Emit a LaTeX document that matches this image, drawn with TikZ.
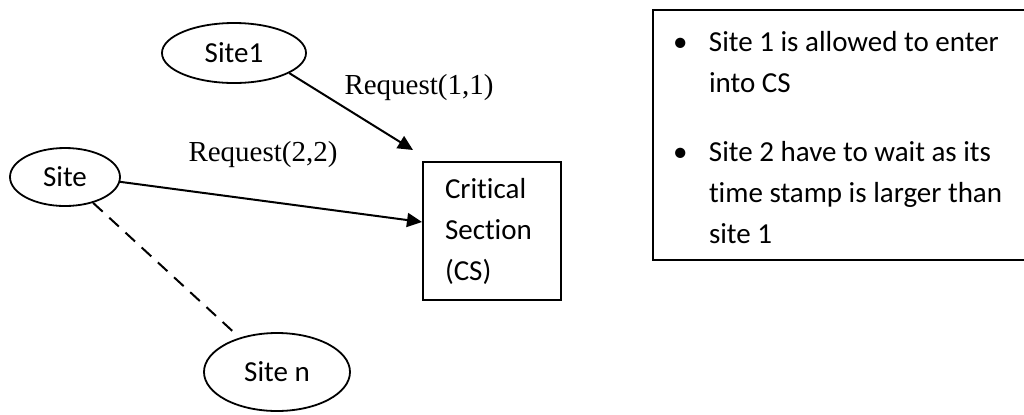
\documentclass[tikz,border=0pt]{standalone}
\usepackage{fontspec}
\setmainfont{Carlito}[Ligatures=NoCommon]
\newfontfamily\reqfont{Liberation Serif}
\usetikzlibrary{positioning}
\usetikzlibrary{arrows.meta}
\usetikzlibrary{shapes.geometric}
\tikzset{>={Triangle[length=7.5pt,width=7pt]}}
\tikzset{
  site/.style={draw, ellipse, line width=0.9pt, inner sep=0pt, font=\fontsize{14.5pt}{17pt}\selectfont},
  req/.style={inner sep=0pt, font=\reqfont\fontsize{14.5pt}{17pt}\selectfont},
  notetext/.style={inner sep=0pt, text width=175pt, align=flush left, font=\fontsize{14.5pt}{20.5pt}\selectfont},
}
\newcommand{\bulletitem}{\noindent\hangindent=18pt\hangafter=1\makebox[18pt][l]{\textbullet}}

\begin{document}
\begin{tikzpicture}[x=0.5pt, y=-0.5pt, line width=1pt]
\useasboundingbox (0,0) rectangle (1024,414);

% the sites and the critical section
\node (site1) [site, minimum width=72pt, minimum height=30pt] at (234,53) {Site1};
\node (site) [site, minimum width=55pt, minimum height=29pt] at (65,177) {Site};
\node (siten) [site, minimum width=73pt, minimum height=39pt] at (277,372) {Site n};
\node (cs) [draw, text width=47pt, align=flush left, inner xsep=11pt, minimum height=69pt,
  font=\fontsize{14.5pt}{20.5pt}\selectfont] at (492,231) {Critical\\Section\\(CS)};

% request messages
\coordinate (tip1) at (413,150);
\node (req1) [req] at (419,88) {Request(1,1)};
\node (req2) [req] at (263,155) {Request(2,2)};

\path [draw, ->] (site1.-20) -- (tip1);
\path [draw, ->] (site.-5) -- ([yshift=4.5pt]cs.west);
\path [draw, dash pattern=on 6.5pt off 4.5pt, shorten >=4pt] (site) -- (siten);

% note on the right
\node (note) [draw, minimum width=187pt, minimum height=125pt, anchor=north west, inner sep=0pt] at (652,9) {};
\node (notes) [notetext, anchor=north west] at ([xshift=10pt, yshift=-10.5pt]note.north west) {%
  \bulletitem Site 1 is allowed to enter into CS\par
  \vspace{14pt}
  \bulletitem Site 2 have to wait as its time stamp is larger than site 1\par};
\end{tikzpicture}
\end{document}
